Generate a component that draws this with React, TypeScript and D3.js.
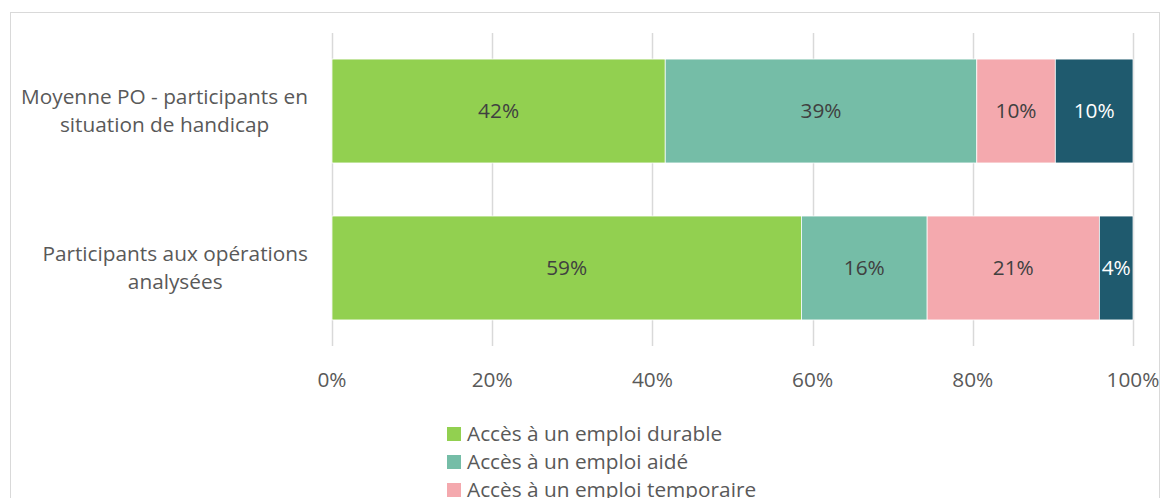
import React, { useEffect, useRef } from "react";
import * as d3 from "d3";

const categories = [
  ["Moyenne PO - participants en", "situation de handicap"],
  ["Participants aux opérations", "analysées"],
];
const seriesNames = [
  "Accès à un emploi durable",
  "Accès à un emploi aidé",
  "Accès à un emploi temporaire",
  "Autre",
];
const durable = [0.416, 0.586];
const aide = [0.389, 0.157];
const temporaire = [0.098, 0.215];
const autre = [0.097, 0.042];
const labels = [
  ["42%", "39%", "10%", "10%"],
  ["59%", "16%", "21%", "4%"],
];
const ticks = [0, 0.2, 0.4, 0.6, 0.8, 1];
const colors = ["#92D050", "#75BDA7", "#F4A9AE", "#1F5A6E"];
const labelColors = ["#404040", "#404040", "#404040", "#ffffff"];

const FONT = "'Open Sans', sans-serif";
const FS = 20.8;

export default function App() {
  const ref = useRef<SVGSVGElement>(null);
  useEffect(() => {
    const svg = d3.select(ref.current);
    svg.selectAll("*").remove();
    svg.append("rect").attr("x", 10.5).attr("y", 12.5).attr("width", 1149).attr("height", 500)
      .attr("fill", "#fff").attr("stroke", "#d9d9d9").attr("stroke-width", 1);

    const x = d3.scaleLinear().domain([0, 1]).range([332, 1133]);
    const y = d3.scaleBand().domain(["0", "1"]).range([33, 346]).paddingInner(0.338).paddingOuter(0.166);

    const g = svg.append("g");
    ticks.forEach((t) => {
      g.append("line").attr("x1", Math.round(x(t)) + 0.5).attr("x2", Math.round(x(t)) + 0.5)
        .attr("y1", 33).attr("y2", 346).attr("stroke", "#d9d9d9").attr("stroke-width", 1.5);
      g.append("text").attr("x", x(t)).attr("y", 380).attr("dy", "0.35em").attr("text-anchor", "middle")
        .attr("font-family", FONT).attr("font-size", FS).attr("fill", "#595959")
        .text(d3.format(".0%")(t));
    });

    const rows = [0, 1].map((i) => [durable[i], aide[i], temporaire[i], autre[i]]);
    rows.forEach((vals, i) => {
      let acc = 0;
      const by = y(String(i))!;
      const bh = y.bandwidth();
      vals.forEach((v, j) => {
        const x0 = x(acc), x1 = x(acc + v);
        g.append("rect").attr("x", x0).attr("y", by).attr("width", x1 - x0).attr("height", bh)
          .attr("fill", colors[j]).attr("stroke", "#fff").attr("stroke-width", 0.75);
        g.append("text").attr("x", (x0 + x1) / 2).attr("y", by + bh / 2).attr("dy", "0.35em")
          .attr("text-anchor", "middle").attr("font-family", FONT).attr("font-size", FS)
          .attr("fill", labelColors[j]).text(labels[i][j]);
        acc += v;
      });
      const cy = by + bh / 2;
      const lines = categories[i];
      const tmp = lines.map((l) =>
        svg.append("text").attr("font-family", FONT).attr("font-size", FS).text(l)
      );
      const widths = tmp.map((t) => (t.node() as SVGTextElement).getComputedTextLength());
      tmp.forEach((t) => t.remove());
      const maxW = Math.max(...widths);
      const cx = 308 - maxW / 2;
      lines.forEach((l, k) => {
        g.append("text").attr("x", cx).attr("y", cy + (k - 0.5) * 28).attr("dy", "0.35em")
          .attr("text-anchor", "middle").attr("font-family", FONT).attr("font-size", FS)
          .attr("fill", "#595959").text(l);
      });
    });

    seriesNames.forEach((n, j) => {
      const ly = 434 + j * 28;
      svg.append("rect").attr("x", 447).attr("y", ly - 7).attr("width", 14).attr("height", 14)
        .attr("fill", colors[j]);
      svg.append("text").attr("x", 467).attr("y", ly).attr("dy", "0.35em")
        .attr("font-family", FONT).attr("font-size", FS).attr("fill", "#595959").text(n);
    });
  }, []);
  return (
    <svg ref={ref} width={1167} height={498}
      style={{ position: "absolute", left: 0, top: 0, background: "#fff" }} />
  );
}
